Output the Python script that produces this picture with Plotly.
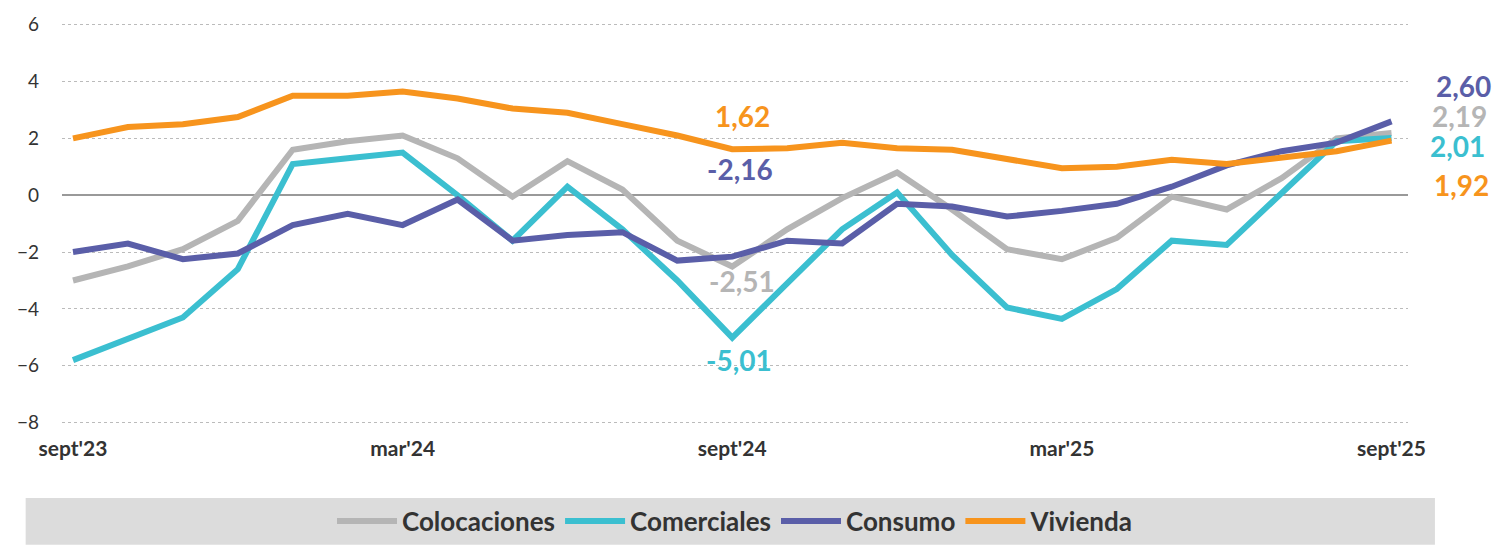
import plotly.graph_objects as go

months = ["sept'23", "oct'23", "nov'23", "dic'23", "ene'24", "feb'24", "mar'24", "abr'24",
          "may'24", "jun'24", "jul'24", "ago'24", "sept'24", "oct'24", "nov'24", "dic'24",
          "ene'25", "feb'25", "mar'25", "abr'25", "may'25", "jun'25", "jul'25", "ago'25", "sept'25"]
tick_idx = [0, 6, 12, 18, 24]

colocaciones = [-3.0, -2.5, -1.9, -0.9, 1.6, 1.9, 2.1, 1.3, -0.05, 1.2, 0.2, -1.6, -2.51,
                -1.2, -0.1, 0.8, -0.5, -1.9, -2.25, -1.5, -0.05, -0.5, 0.6, 2.0, 2.19]
comerciales = [-5.8, -5.05, -4.3, -2.6, 1.1, 1.3, 1.5, 0.0, -1.6, 0.3, -1.2, -3.0, -5.01,
               -3.1, -1.2, 0.1, -2.1, -3.95, -4.35, -3.3, -1.6, -1.75, 0.1, 1.9, 2.01]
consumo = [-2.0, -1.7, -2.25, -2.05, -1.05, -0.65, -1.05, -0.15, -1.6, -1.4, -1.3, -2.3, -2.16,
           -1.6, -1.7, -0.3, -0.4, -0.75, -0.55, -0.3, 0.3, 1.05, 1.55, 1.85, 2.60]
vivienda = [2.0, 2.4, 2.5, 2.75, 3.5, 3.5, 3.65, 3.4, 3.05, 2.9, 2.5, 2.1, 1.62,
            1.65, 1.85, 1.65, 1.6, 1.3, 0.95, 1.0, 1.25, 1.1, 1.35, 1.55, 1.92]

series = [
    ("Colocaciones", colocaciones, "#b5b5b5"),
    ("Comerciales", comerciales, "#3bbfd0"),
    ("Consumo", consumo, "#5a5ea8"),
    ("Vivienda", vivienda, "#f7941d"),
]

x = list(range(len(months)))
fig = go.Figure()
for name, vals, color in series:
    fig.add_trace(go.Scatter(x=x, y=vals, name=f"<b>{name}</b>", mode="lines",
                             line=dict(color=color, width=6)))

font = "Lato, 'DejaVu Sans', sans-serif"
# value labels: (text, x, y, color, xshift, yshift)
labels = [
    ("2,60", 24, 2.60, "#5a5ea8", 72, 35),
    ("2,19", 24, 2.19, "#b5b5b5", 68, 17),
    ("2,01", 24, 2.01, "#3bbfd0", 66, -8),
    ("1,92", 24, 1.92, "#f7941d", 70, -44),
    ("1,62", 12, 1.62, "#f7941d", 10, 33),
    ("-2,16", 12, -2.16, "#5a5ea8", 8, 88),
    ("-2,51", 12, -2.51, "#b5b5b5", 10, -14),
    ("-5,01", 12, -5.01, "#3bbfd0", 7, -22),
]
for text, xi, yi, color, xs, ys in labels:
    fig.add_annotation(x=xi, y=yi, text=f"<b>{text}</b>", showarrow=False,
                       xshift=xs, yshift=ys, font=dict(size=28, color=color, family=font))

fig.add_shape(type="rect", xref="paper", yref="paper", x0=-0.027, x1=1.02,
              y0=-0.267, y1=-0.154, fillcolor="#dcdcdc", line=dict(width=0), layer="below")

fig.update_layout(
    width=1500, height=548,
    margin=dict(l=54, r=100, t=11, b=122, autoexpand=False),
    plot_bgcolor="white", paper_bgcolor="white",
    showlegend=True,
    legend=dict(orientation="h", x=0.5, xanchor="center", y=-0.21, yanchor="middle",
                font=dict(size=26, color="#333333", family=font),
                bgcolor="rgba(0,0,0,0)", itemwidth=60, tracegroupgap=40),
    xaxis=dict(range=[-0.2, 24.3], tickvals=tick_idx, automargin=False,
               ticktext=[f"<b>{months[i]}</b>" for i in tick_idx],
               showgrid=False, zeroline=False, ticks="",
               tickfont=dict(size=21, color="#333333", family=font)),
    yaxis=dict(range=[-8.4, 6.2], tickvals=[-8, -6, -4, -2, 0, 2, 4, 6], automargin=False,
               showgrid=True, gridcolor="#bbbbbb", griddash="dot", gridwidth=1,
               zeroline=True, zerolinecolor="#999999", zerolinewidth=1.5,
               tickfont=dict(size=19, color="#333333", family=font), ticklabelstandoff=22),
)

fig.write_html("out.html")
